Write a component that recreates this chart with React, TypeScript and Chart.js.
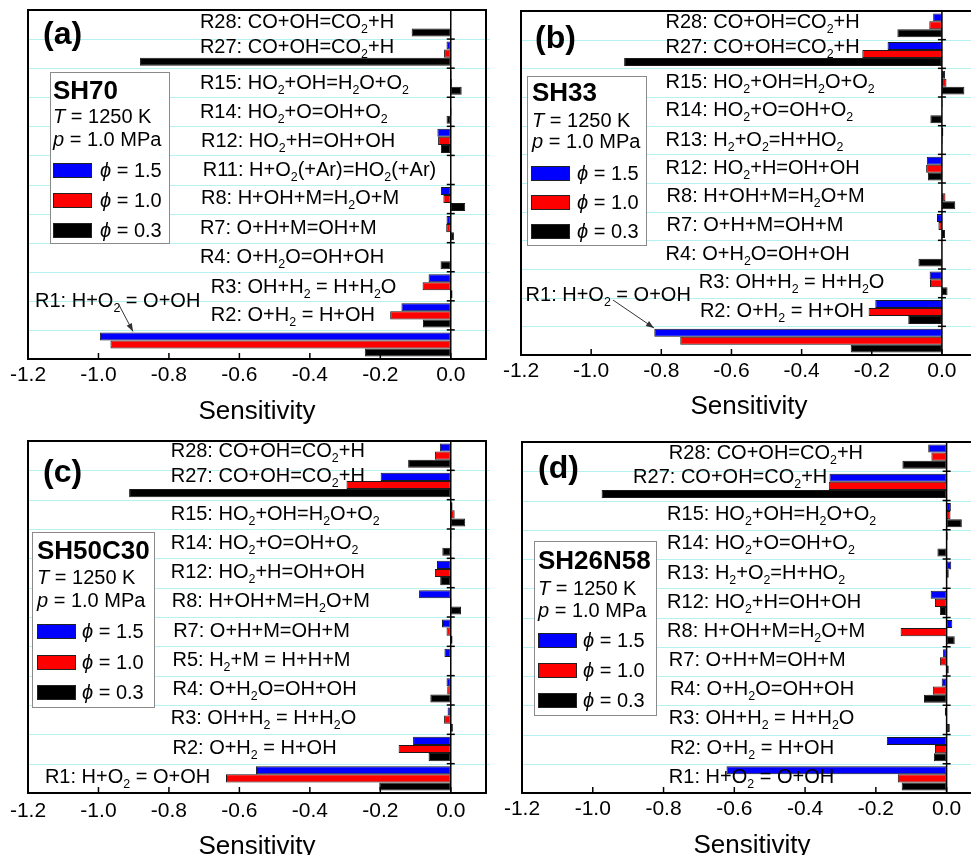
import React, { useEffect, useRef } from 'react';
import { Chart, registerables } from 'chart.js';

Chart.register(...registerables);

const FONT = '"Liberation Sans", Arial, Helvetica, sans-serif';
Chart.defaults.font.family = FONT;

// ---------------- data ----------------
const X_TICKS = [-1.2, -1.0, -0.8, -0.6, -0.4, -0.2, 0.0];
const X_MIN = -1.2;
const X_MAX = 0.1;
const AXIS_TITLE = 'Sensitivity';
const SERIES_LEGEND = ['*ϕ* = 1.5', '*ϕ* = 1.0', '*ϕ* = 0.3'];
const SERIES_COLORS = ['#0000ff', '#ff0000', '#000000'];
const CONDITIONS = ['*T* = 1250 K', '*p* = 1.0 MPa'];
const MIXTURES = ['SH70', 'SH33', 'SH50C30', 'SH26N58'];
const LETTERS = ['(a)', '(b)', '(c)', '(d)'];

// "_2" = subscript 2
const REACTIONS: Record<string, string> = {
  R28: 'CO+OH=CO_2+H',
  R27: 'CO+OH=CO_2+H',
  R15: 'HO_2+OH=H_2O+O_2',
  R14: 'HO_2+O=OH+O_2',
  R13: 'H_2+O_2=H+HO_2',
  R12: 'HO_2+H=OH+OH',
  R11: 'H+O_2(+Ar)=HO_2(+Ar)',
  R8: 'H+OH+M=H_2O+M',
  R7: 'O+H+M=OH+M',
  R5: 'H_2+M = H+H+M',
  R4: 'O+H_2O=OH+OH',
  R3: 'OH+H_2 = H+H_2O',
  R2: 'O+H_2 = H+OH',
  R1: 'H+O_2 = O+OH',
};

// (a) SH70
const CATS_A = ['R28', 'R27', 'R15', 'R14', 'R12', 'R11', 'R8', 'R7', 'R4', 'R3', 'R2', 'R1'];
const A_PHI15 = [0, -0.012, 0.002, 0.001, -0.038, 0, -0.028, -0.012, 0, -0.063, -0.140, -0.996];
const A_PHI10 = [0, -0.019, 0.003, 0.002, -0.036, 0, -0.021, -0.013, 0, -0.080, -0.172, -0.966];
const A_PHI03 = [-0.111, -0.882, 0.031, -0.012, -0.028, 0, 0.041, 0.009, -0.029, 0.005, -0.079, -0.244];

// (b) SH33
const CATS_B = ['R28', 'R27', 'R15', 'R14', 'R13', 'R12', 'R8', 'R7', 'R4', 'R3', 'R2', 'R1'];
const B_PHI15 = [-0.025, -0.155, 0.009, 0.002, 0.004, -0.043, 0.001, -0.014, 0, -0.035, -0.190, -0.820];
const B_PHI10 = [-0.036, -0.227, 0.013, 0, 0.002, -0.045, 0.010, -0.010, 0, -0.034, -0.209, -0.746];
const B_PHI03 = [-0.127, -0.906, 0.064, -0.033, 0.001, -0.040, 0.038, 0.009, -0.067, 0.016, -0.096, -0.260];

// (c) SH50C30
const CATS_C = ['R28', 'R27', 'R15', 'R14', 'R12', 'R8', 'R7', 'R5', 'R4', 'R3', 'R2', 'R1'];
const C_PHI15 = [-0.031, -0.199, 0.005, 0.002, -0.039, -0.090, -0.025, -0.018, -0.012, -0.009, -0.107, -0.553];
const C_PHI10 = [-0.045, -0.296, 0.011, 0, -0.045, 0.002, -0.012, 0, -0.010, -0.019, -0.148, -0.638];
const C_PHI03 = [-0.121, -0.913, 0.041, -0.024, -0.030, 0.029, 0.005, 0, -0.058, 0.006, -0.063, -0.203];

// (d) SH26N58
const CATS_D = ['R28', 'R27', 'R15', 'R14', 'R13', 'R12', 'R8', 'R7', 'R4', 'R3', 'R2', 'R1'];
const D_PHI15 = [-0.052, -0.331, 0.012, 0.003, 0.013, -0.045, 0.016, -0.010, -0.014, -0.005, -0.169, -0.622];
const D_PHI10 = [-0.043, -0.333, 0.011, 0, 0.006, -0.033, -0.130, -0.019, -0.039, 0, -0.033, -0.138];
const D_PHI03 = [-0.125, -0.975, 0.043, -0.026, 0, -0.019, 0.023, 0.006, -0.064, 0.009, -0.036, -0.127];

// ---------------- layout (positions / sizes only) ----------------
const GRID_CYAN = '#b4f2f2';

const PANELS = [
  {
    cats: CATS_A, series: [A_PHI15, A_PHI10, A_PHI03],
    left: 0, top: 0, width: 490, height: 440,
    pad: { left: 28, top: 10, right: 4 }, axisH: 81, tickPad: 4, titlePad: 13,
    letterPos: [15, 25],
    legend: { box: [22, 62, 119, 171], textX: 25, swX: 25, phiX: 72, rows: [80, 106, 129, 160, 190, 220] },
    labelX: [-0.712, -0.712, -0.712, -0.712, -0.709, -0.704, -0.709, -0.712, -0.712, -0.681, -0.681, -1.180],
    labelDy: [3.5, -0.5, 6, 6, 6, 6, 5, 6, 6, 7, 6, -37.5],
    arrow: { from: [-0.944, -41], to: [-0.902, -13] },
  },
  {
    cats: CATS_B, series: [B_PHI15, B_PHI10, B_PHI03],
    left: 490, top: 0, width: 490, height: 440,
    pad: { left: 31, top: 11, right: 3 }, axisH: 85, tickPad: 4, titlePad: 18,
    letterPos: [14, 28],
    legend: { box: [6, 65, 119, 169], textX: 11, swX: 10, phiX: 56, rows: [81, 109, 130, 162, 191, 220] },
    labelX: [-0.788, -0.788, -0.788, -0.788, -0.788, -0.788, -0.785, -0.785, -0.788, -0.693, -0.690, -1.187],
    labelDy: [3, -1, 5, 5, 6, 5, 5, 5, 5, 5, 5, -39.7],
    arrow: { from: [-0.938, -40.7], to: [-0.821, -12.7] },
  },
  {
    cats: CATS_C, series: [C_PHI15, C_PHI10, C_PHI03],
    left: 0, top: 430, width: 490, height: 440,
    pad: { left: 28, top: 11, right: 4 }, axisH: 77, tickPad: 6, titlePad: 8,
    letterPos: [15, 32],
    legend: { box: [4, 91, 122, 175], textX: 9, swX: 9, phiX: 54, rows: [109, 136, 159, 190, 221, 251] },
    labelX: [-0.795, -0.795, -0.795, -0.795, -0.795, -0.792, -0.788, -0.790, -0.790, -0.795, -0.790, -1.152],
    labelDy: [1.3, -3, 5.5, 5, 5, 5, 5, 4.5, 4.5, 4.5, 4.5, 4.7],
    arrow: null,
  },
  {
    cats: CATS_D, series: [D_PHI15, D_PHI10, D_PHI03],
    left: 490, top: 430, width: 500, height: 440,
    pad: { left: 32, top: 12, right: 8 }, axisH: 77, tickPad: 4, titlePad: 9,
    letterPos: [16, 27],
    legend: { box: [12, 99, 122, 174], textX: 16, swX: 16, phiX: 61, rows: [118, 146, 168, 198, 228, 258] },
    labelX: [-0.785, -0.886, -0.790, -0.790, -0.790, -0.790, -0.790, -0.785, -0.782, -0.785, -0.782, -0.785],
    labelDy: [2.4, -3, 5, 5, 5, 5, 5, 5, 4.5, 4.5, 4.5, 4.6],
    arrow: null,
  },
];

// ---------------- helpers ----------------
// markup: *...* italic, _x subscript char
function drawRich(ctx: CanvasRenderingContext2D, text: string, x: number, y: number, size: number, weight = '') {
  type Run = { t: string; italic: boolean; sub: boolean };
  const runs: Run[] = [];
  let italic = false;
  for (let i = 0; i < text.length; i++) {
    let ch = text[i];
    if (ch === '*') { italic = !italic; continue; }
    let sub = false;
    if (ch === '_') { sub = true; i++; ch = text[i]; }
    const last = runs[runs.length - 1];
    if (last && last.italic === italic && last.sub === sub) last.t += ch;
    else runs.push({ t: ch, italic, sub });
  }
  let cx = x;
  ctx.textAlign = 'left';
  ctx.textBaseline = 'alphabetic';
  for (const r of runs) {
    const fs = r.sub ? size * 0.62 : size;
    ctx.font = `${r.italic ? 'italic ' : ''}${weight} ${fs}px ${FONT}`;
    ctx.fillText(r.t, cx, r.sub ? y + size * 0.25 : y);
    cx += ctx.measureText(r.t).width;
  }
}

function makePlugin(idx: number) {
  const cfg = PANELS[idx];
  return {
    id: 'decor' + idx,
    beforeDatasetsDraw(chart: any) {
      const { ctx, chartArea: ca } = chart;
      const y = chart.scales.y;
      ctx.save();
      ctx.strokeStyle = GRID_CYAN;
      ctx.lineWidth = 1;
      for (let i = 0; i < cfg.cats.length - 1; i++) {
        const yy = Math.round((y.getPixelForValue(i) + y.getPixelForValue(i + 1)) / 2) + 0.5;
        ctx.beginPath();
        ctx.moveTo(ca.left, yy);
        ctx.lineTo(chart.width, yy);
        ctx.stroke();
      }
      ctx.restore();
    },
    afterDatasetsDraw(chart: any) {
      const { ctx, chartArea: ca } = chart;
      const x = chart.scales.x;
      const y = chart.scales.y;
      ctx.save();
      // frame
      ctx.strokeStyle = '#000';
      ctx.lineWidth = 2;
      ctx.strokeRect(ca.left, ca.top, ca.right - ca.left, ca.bottom - ca.top);
      // zero line with ticks
      const x0 = x.getPixelForValue(0);
      ctx.lineWidth = 1.5;
      ctx.beginPath();
      ctx.moveTo(x0, ca.top);
      ctx.lineTo(x0, ca.bottom);
      ctx.stroke();
      for (let i = 0; i < cfg.cats.length - 1; i++) {
        const yy = (y.getPixelForValue(i) + y.getPixelForValue(i + 1)) / 2;
        ctx.beginPath();
        ctx.moveTo(x0 - 4, yy);
        ctx.lineTo(x0 + 4, yy);
        ctx.stroke();
      }
      // inward x ticks
      for (const v of X_TICKS) {
        const px = x.getPixelForValue(v);
        ctx.beginPath();
        ctx.moveTo(px, ca.bottom);
        ctx.lineTo(px, ca.bottom - 6);
        ctx.stroke();
      }
      // reaction labels
      ctx.fillStyle = '#000';
      cfg.cats.forEach((c, i) => {
        const cy = y.getPixelForValue(i);
        drawRich(ctx, `${c}: ${REACTIONS[c]}`, x.getPixelForValue(cfg.labelX[i]), cy + cfg.labelDy[i], 20);
      });
      // arrow for R1
      if (cfg.arrow) {
        const cy = y.getPixelForValue(cfg.cats.length - 1);
        const x1 = x.getPixelForValue(cfg.arrow.from[0]);
        const y1 = cy + cfg.arrow.from[1];
        const x2 = x.getPixelForValue(cfg.arrow.to[0]);
        const y2 = cy + cfg.arrow.to[1];
        ctx.strokeStyle = '#333';
        ctx.fillStyle = '#333';
        ctx.lineWidth = 1;
        ctx.beginPath();
        ctx.moveTo(x1, y1);
        ctx.lineTo(x2, y2);
        ctx.stroke();
        const a = Math.atan2(y2 - y1, x2 - x1);
        const L = 8, W = 3;
        ctx.beginPath();
        ctx.moveTo(x2, y2);
        ctx.lineTo(x2 - L * Math.cos(a) + W * Math.sin(a), y2 - L * Math.sin(a) - W * Math.cos(a));
        ctx.lineTo(x2 - L * Math.cos(a) - W * Math.sin(a), y2 - L * Math.sin(a) + W * Math.cos(a));
        ctx.closePath();
        ctx.fill();
      }
      // legend box
      const lg = cfg.legend;
      const bx = ca.left + lg.box[0];
      const by = ca.top + lg.box[1];
      ctx.fillStyle = '#fff';
      ctx.fillRect(bx, by, lg.box[2], lg.box[3]);
      ctx.strokeStyle = '#8a8a8a';
      ctx.lineWidth = 1;
      ctx.strokeRect(bx + 0.5, by + 0.5, lg.box[2], lg.box[3]);
      ctx.fillStyle = '#000';
      drawRich(ctx, MIXTURES[idx], ca.left + lg.textX, ca.top + lg.rows[0] + 9.3, 26, 'bold');
      drawRich(ctx, CONDITIONS[0], ca.left + lg.textX, ca.top + lg.rows[1] + 7.2, 20);
      drawRich(ctx, CONDITIONS[1], ca.left + lg.textX, ca.top + lg.rows[2] + 7.2, 20);
      for (let s = 0; s < 3; s++) {
        const ry = ca.top + lg.rows[3 + s];
        ctx.fillStyle = SERIES_COLORS[s];
        ctx.fillRect(ca.left + lg.swX, ry - 7, 38, 14);
        ctx.strokeStyle = '#222';
        ctx.strokeRect(ca.left + lg.swX + 0.5, ry - 7 + 0.5, 38, 14);
        ctx.fillStyle = '#000';
        drawRich(ctx, SERIES_LEGEND[s], ca.left + lg.phiX, ry + 7.2, 20);
      }
      // panel letter
      ctx.font = `bold 32px ${FONT}`;
      ctx.textBaseline = 'middle';
      ctx.textAlign = 'left';
      ctx.fillStyle = '#000';
      ctx.fillText(LETTERS[idx], ca.left + cfg.letterPos[0], ca.top + cfg.letterPos[1]);
      ctx.restore();
    },
  };
}

function Panel({ idx }: { idx: number }) {
  const ref = useRef<HTMLCanvasElement>(null);
  const cfg = PANELS[idx];
  useEffect(() => {
    if (!ref.current) return;
    const chart = new Chart(ref.current, {
      type: 'bar',
      data: {
        labels: cfg.cats,
        datasets: cfg.series.map((vals, s) => ({
          label: SERIES_LEGEND[s],
          data: vals,
          backgroundColor: SERIES_COLORS[s],
          borderColor: '#1a1a1a',
          borderWidth: 1,
          borderSkipped: false,
          categoryPercentage: 0.83,
          barPercentage: 1.0,
        })),
      },
      options: {
        indexAxis: 'y',
        animation: false,
        responsive: false,
        maintainAspectRatio: false,
        devicePixelRatio: 1,
        layout: { padding: { left: cfg.pad.left, top: cfg.pad.top, right: cfg.pad.right, bottom: 0 } },
        plugins: { legend: { display: false }, tooltip: { enabled: false }, title: { display: false } },
        scales: {
          y: { type: 'category', display: false, offset: true, grid: { display: false } },
          x: {
            type: 'linear',
            min: X_MIN,
            max: X_MAX,
            afterBuildTicks: (scale: any) => { scale.ticks = X_TICKS.map((v) => ({ value: v })); },
            afterFit: (scale: any) => { scale.height = cfg.axisH; },
            grid: { display: false, drawTicks: false },
            border: { display: false },
            ticks: {
              color: '#000',
              font: { family: FONT, size: 21 },
              padding: cfg.tickPad,
              autoSkip: false,
              maxRotation: 0,
              callback: (v: any) => Number(v).toFixed(1),
            },
            title: {
              display: true,
              text: AXIS_TITLE,
              color: '#000',
              font: { family: FONT, size: 26 },
              padding: { top: 0, bottom: cfg.titlePad },
            },
          },
        },
      } as any,
      plugins: [makePlugin(idx)],
    });
    return () => chart.destroy();
  }, [idx]);
  return (
    <canvas
      ref={ref}
      width={cfg.width}
      height={cfg.height}
      style={{ position: 'absolute', left: cfg.left, top: cfg.top, width: cfg.width, height: cfg.height }}
    />
  );
}

export default function App() {
  return (
    <div
      style={{
        position: 'absolute',
        left: 0,
        top: 0,
        width: 971,
        height: 855,
        overflow: 'hidden',
        background: '#fff',
      }}
    >
      {PANELS.map((_, i) => (
        <Panel key={i} idx={i} />
      ))}
    </div>
  );
}
